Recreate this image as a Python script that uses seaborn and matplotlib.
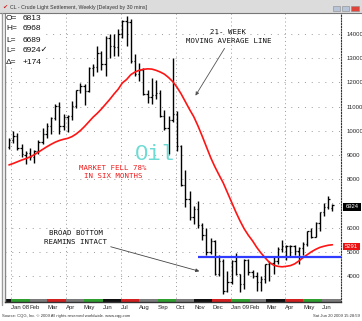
import numpy as np
import pandas as pd
import matplotlib
matplotlib.use("Agg")
import matplotlib.pyplot as plt
import matplotlib.dates as mdates
from matplotlib.patches import Rectangle
from matplotlib.lines import Line2D
import seaborn as sns

# ---------------- data ----------------
first_week = "2007-12-28"
n_weeks = 78

opens = [9330, 9600, 9800, 9270, 9000, 9070, 8900, 9180, 9550, 9880,
         10180, 10520, 11020, 10180, 10560, 10620, 11010, 11670, 11850, 11630,
         12600, 12630, 13220, 12740, 13850, 13490, 13460, 14020, 14530, 14510,
         12890, 12330, 12510, 11520, 11380, 11460, 11550, 10620, 10120, 10460,
         10690, 9390, 7770, 7190, 6420, 6780, 6100, 5700, 4990, 5440,
         4080, 4630, 3390, 3770, 4630, 4080, 3650, 4650, 4170, 4020,
         3750, 3890, 4480, 4550, 4630, 5110, 5240, 5250, 5220, 5030,
         5160, 5320, 5860, 5630, 6170, 6630, 6840, 6813]
highs = [9700, 10010, 9900, 9450, 9150, 9300, 9200, 9600, 10130, 10310,
         10550, 11100, 11180, 10700, 10650, 11220, 11700, 11990, 11950, 12620,
         12780, 13510, 13300, 13910, 13990, 13990, 14200, 14590, 14730, 14600,
         13160, 12800, 12600, 11700, 12200, 12100, 11700, 10850, 10630, 13000,
         10800, 9400, 8400, 7500, 6900, 7100, 6200, 6000, 5550, 5500,
         4850, 4700, 4200, 4660, 4960, 4100, 4700, 4700, 4250, 4150,
         4000, 4500, 4600, 4800, 5200, 5470, 5300, 5300, 5300, 5200,
         5400, 5870, 6000, 6230, 6640, 7030, 7320, 6968]
lows = [9260, 9500, 9200, 8900, 8610, 8800, 8650, 9050, 9450, 9700,
        9850, 10450, 9870, 10050, 9950, 10450, 10950, 11550, 11050, 11600,
        12250, 12450, 12520, 12280, 13000, 13100, 13100, 13850, 13510, 12820,
        12280, 12040, 11460, 11130, 11100, 11300, 10550, 10050, 9050, 10350,
        9150, 7700, 6860, 6300, 6130, 6000, 5470, 4850, 4900, 4050,
        4000, 3240, 3350, 3650, 4030, 3320, 3470, 4050, 3900, 3400,
        3360, 3700, 3800, 4100, 4500, 5000, 4650, 4800, 4850, 4500,
        4850, 5250, 5580, 5600, 5860, 6500, 6750, 6689]
closes = [9600, 9790, 9270, 9060, 9070, 8900, 9180, 9550, 9880, 10180,
          10520, 11020, 10180, 10560, 10620, 11010, 11670, 11850, 11630, 12600,
          12630, 13220, 12740, 13850, 13490, 13460, 14020, 14530, 14510, 12890,
          12330, 12510, 11520, 11380, 11460, 11550, 10620, 10120, 10460, 10690,
          9390, 7770, 7190, 6420, 6780, 6100, 5700, 4990, 5440, 4080,
          4630, 3390, 3770, 4630, 4080, 3650, 4650, 4170, 4020, 3750,
          3890, 4480, 4550, 4630, 5110, 5240, 5250, 5220, 5030, 5160,
          5320, 5860, 5630, 6170, 6630, 6840, 7200, 6924]
ma21 = [8590, 8650, 8720, 8790, 8850, 8920, 9010, 9120, 9230, 9340,
        9440, 9530, 9600, 9650, 9690, 9760, 9870, 10010, 10180, 10370,
        10560, 10720, 10900, 11100, 11300, 11520, 11720, 11980, 12120, 12320,
        12430, 12500, 12540, 12560, 12550, 12500, 12430, 12340, 12200, 12030,
        11800, 11520, 11200, 10880, 10580, 10200, 9780, 9340, 8900, 8520,
        8180, 7850, 7450, 7050, 6650, 6280, 5950, 5680, 5450, 5180,
        4950, 4750, 4560, 4450, 4400, 4380, 4400, 4430, 4500, 4620,
        4760, 4880, 5000, 5100, 5180, 5230, 5270, 5291]

y_ticks = [4000, 5000, 6000, 7000, 8000, 9000, 10000, 11000, 12000, 13000, 14000]
y_tick_labels = ["4000", "5000", "6000", "", "8000", "9000", "10000", "11000",
                 "12000", "13000", "14000"]
month_starts = ["2008-01-01", "2008-02-01", "2008-03-01", "2008-04-01", "2008-05-01",
                "2008-06-01", "2008-07-01", "2008-08-01", "2008-09-01", "2008-10-01",
                "2008-11-01", "2008-12-01", "2009-01-01", "2009-02-01", "2009-03-01",
                "2009-04-01", "2009-05-01", "2009-06-01"]
month_labels = ["Jan 08", "Feb", "Mar", "Apr", "May", "Jun", "Jul", "Aug", "Sep",
                "Oct", "Nov", "Dec", "Jan 09", "Feb", "Mar", "Apr", "May", "Jun"]
month_band_colors = ["#2e9e2e", "#7a7a7a", "#d22020", "#7a7a7a", "#2e9e2e", "#111111",
                     "#d22020", "#7a7a7a", "#2e9e2e", "#7a7a7a", "#111111", "#d22020",
                     "#2e9e2e", "#7a7a7a", "#111111", "#d22020", "#2e9e2e", "#7a7a7a"]
support_level = 4800
support_from = "2008-11-07"
last_close_text = "6924"
last_ma_text = "5291"
info_labels = ["O=", "H=", "L=", "L=", "\u0394="]
info_values = ["6813", "6968", "6689", "6924\u2713", "+174"]

# ---------------- figure ----------------
sns.set_style("white")
plt.rcParams["font.family"] = ["Liberation Sans", "DejaVu Sans"]

W, H = 362, 321
fig = plt.figure(figsize=(W / 100, H / 100), dpi=100)
fig.patch.set_facecolor("white")

def fx(px):
    return px / W

def fy(py):
    return 1 - py / H

ax = fig.add_axes([fx(5), fy(302), fx(341) - fx(5), fy(13) - fy(302)])

dates = pd.date_range(first_week, periods=n_weeks, freq="7D")
xnum = mdates.date2num(dates)
x0 = xnum[0]
px_per_day = 0.6
ax.set_xlim(x0 - 4 / px_per_day, x0 + 332 / px_per_day)
ax.set_ylim(14000 - (302 - 34) / 0.0242, 14000 + (34 - 13) / 0.0242)

# grid
for yv in y_ticks:
    ax.axhline(yv, color="#9a9a9a", lw=0.7, ls=(0, (1, 6)), zorder=0)
mnum = mdates.date2num(pd.to_datetime(month_starts))
for m, lab in zip(mnum, month_labels):
    if lab in ("Jan 08", "Apr", "Jul", "Oct", "Jan 09"):
        ax.axvline(m, color="#9a9a9a", lw=0.7, ls=(0, (1, 3)), zorder=0)

# month colour band
edges = list(mnum) + [ax.get_xlim()[1]]
ax.axvspan(ax.get_xlim()[0], mnum[0], ymin=0, ymax=0.009, color="#111111", lw=0)
for i, c in enumerate(month_band_colors):
    ax.axvspan(edges[i], edges[i + 1], ymin=0, ymax=0.009, color=c, lw=0)

# OHLC bars
tick = 2.3
ax.vlines(xnum, lows, highs, color="black", lw=1.0, zorder=3)
ax.hlines(opens, xnum - tick, xnum, color="black", lw=0.9, zorder=3)
ax.hlines(closes, xnum, xnum + tick, color="black", lw=0.9, zorder=3)

# moving average
sns.lineplot(x=xnum, y=ma21, ax=ax, color="#ff1414", linewidth=1.2, zorder=4, legend=False)

# support line
ax.hlines(support_level, mdates.date2num(pd.Timestamp(support_from)), ax.get_xlim()[1],
          color="#2f3cff", lw=1.6, zorder=5)

ax.set_xlabel("")
ax.set_ylabel("")

# axes ticks
ax.yaxis.tick_right()
ax.set_yticks(y_ticks)
ax.set_yticklabels(y_tick_labels, fontsize=4.3)
ax.tick_params(axis="y", length=0, pad=4)
ax.set_xticks(mnum)
ax.set_xticklabels(month_labels, fontsize=4.3)
for t in ax.get_xticklabels():
    t.set_ha("left")
ax.tick_params(axis="x", length=0, pad=2)

ax.spines["top"].set_visible(False)
ax.spines["left"].set_color("#888888")
ax.spines["left"].set_linewidth(1.0)
ax.spines["bottom"].set_color("#333333")
ax.spines["bottom"].set_linewidth(1.0)
ax.spines["right"].set_color("#333333")
ax.spines["right"].set_linewidth(0.8)
ax.spines["right"].set_linestyle((0, (1, 1.5)))

# ---------------- title bar ----------------
fig.patches.append(Rectangle((0, fy(13)), 1, 13 / H, transform=fig.transFigure,
                             facecolor="#dcdcdc", edgecolor="none", zorder=1))
fig.lines.append(Line2D([0, 1], [fy(13), fy(13)], transform=fig.transFigure,
                        color="#777777", lw=0.8, zorder=2))
fig.text(fx(2.5), fy(7), "\u2714", color="#d02020", fontsize=4.5, va="center",
         family=["DejaVu Sans"], zorder=3)
fig.text(fx(10), fy(7), "CL - Crude Light Settlement, Weekly [Delayed by 30 mins]",
         fontsize=3.8, color="#333333", va="center", zorder=3)
for (xa, xb, col) in [(333, 340, "#b8c4d8"), (342, 349, "#b8c4d8"), (351, 359, "#e0433a")]:
    fig.patches.append(Rectangle((fx(xa), fy(11)), fx(xb) - fx(xa), 5 / H,
                                 transform=fig.transFigure, facecolor=col,
                                 edgecolor="#8a8a8a", lw=0.4, zorder=3))
fig.lines.append(Line2D([fx(2), fx(2)], [fy(13), fy(305)], transform=fig.transFigure,
                        color="#9a9a9a", lw=1.0, zorder=2))

# ---------------- info box ----------------
fig.patches.append(Rectangle((fx(6), fy(66)), fx(46) - fx(6), 52 / H,
                             transform=fig.transFigure, facecolor="white",
                             edgecolor="none", zorder=1))
for k, (lab, val) in enumerate(zip(info_labels, info_values)):
    yy = 18 + k * 11
    fig.text(fx(6), fy(yy), lab, fontsize=6, va="center", color="#111111",
             family=["Liberation Sans", "DejaVu Sans"], zorder=3)
    fig.text(fx(23), fy(yy), val, fontsize=6, va="center", color="#111111",
             family=["Liberation Sans", "DejaVu Sans"], zorder=3)

# ---------------- annotations ----------------
mono = ["DejaVu Sans Mono"]
fig.text(fx(228), fy(32), "21- WEEK", fontsize=5.3, ha="center", va="center",
         family=mono, color="#111111")
fig.text(fx(229), fy(41), "MOVING AVERAGE LINE", fontsize=5.3, ha="center", va="center",
         family=mono, color="#111111")
ax.annotate("", xy=(fx(194), fy(98)), xycoords="figure fraction",
            xytext=(fx(226), fy(46)), textcoords="figure fraction",
            arrowprops=dict(arrowstyle="-|>", color="#555555", lw=0.6, mutation_scale=5))

fig.text(fx(113), fy(168), "MARKET FELL 78%", fontsize=5.3, ha="center", va="center",
         family=mono, color="#ee1c1c")
fig.text(fx(113), fy(176.5), "IN SIX MONTHS", fontsize=5.3, ha="center", va="center",
         family=mono, color="#ee1c1c")

fig.text(fx(76), fy(233), "BROAD BOTTOM", fontsize=5.3, ha="center", va="center",
         family=mono, color="#111111")
fig.text(fx(76), fy(242), "REAMINS INTACT", fontsize=5.3, ha="center", va="center",
         family=mono, color="#111111")
ax.annotate("", xy=(fx(202), fy(272)), xycoords="figure fraction",
            xytext=(fx(108), fy(246)), textcoords="figure fraction",
            arrowprops=dict(arrowstyle="-|>", color="#444444", lw=0.6, mutation_scale=5))

fig.text(fx(155), fy(155), "Oil", fontsize=16, ha="center", va="center",
         family=["Liberation Mono"], color="#6edbd4", zorder=2)

# ---------------- last value labels ----------------
fig.patches.append(Rectangle((fx(343), fy(211)), fx(361) - fx(343), 8 / H,
                             transform=fig.transFigure, facecolor="black",
                             edgecolor="none", zorder=3))
fig.text(fx(352), fy(207), last_close_text, fontsize=4.2, color="white",
         ha="center", va="center", zorder=4)
fig.patches.append(Rectangle((fx(343), fy(250)), fx(360) - fx(343), 7 / H,
                             transform=fig.transFigure, facecolor="#ee1111",
                             edgecolor="none", zorder=3))
fig.text(fx(351.5), fy(246.5), last_ma_text, fontsize=4.2, color="white",
         ha="center", va="center", zorder=4)

# ---------------- footer ----------------
fig.text(fx(2), fy(316), "Source: CQG, Inc. \u00a9 2009 All rights reserved worldwide. www.cqg.com",
         fontsize=3.0, color="#333333", va="center")
fig.text(fx(360), fy(316), "Sat Jun 20 2009 15:28:59", fontsize=3.0, color="#333333",
         va="center", ha="right")

fig.savefig("out.png", dpi=100, facecolor="white")
